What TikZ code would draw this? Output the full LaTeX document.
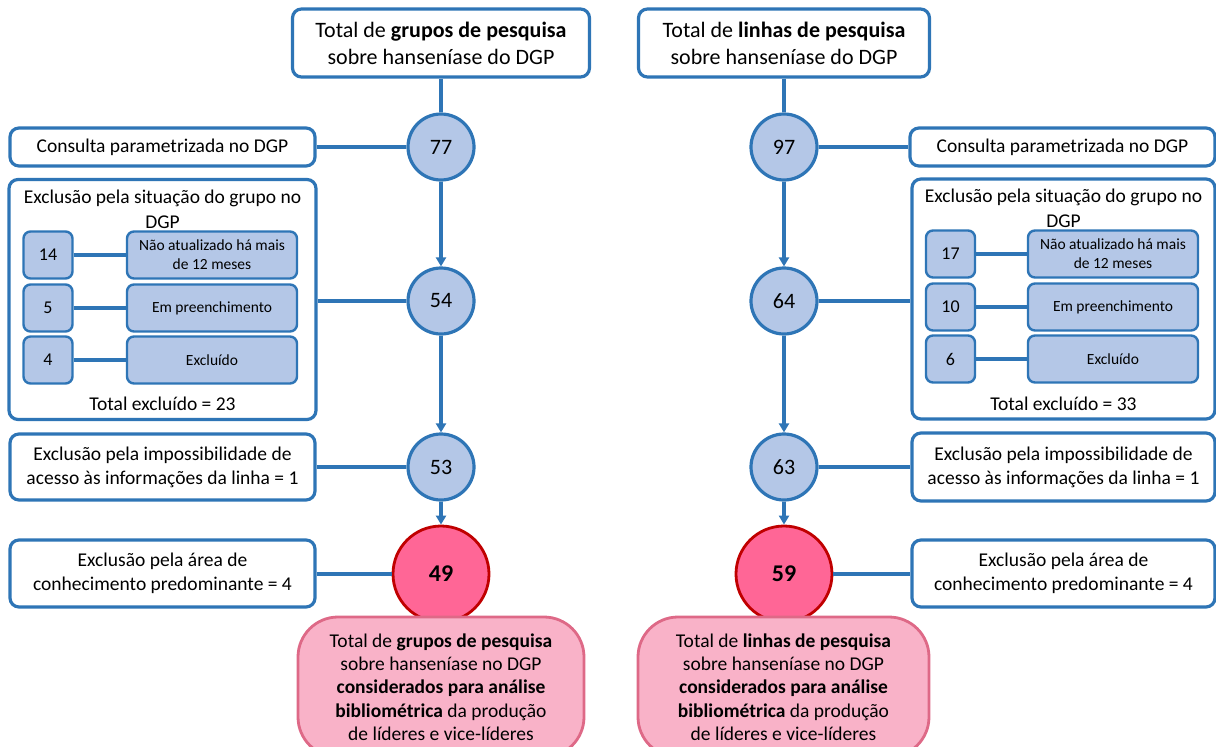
\documentclass[tikz,border=0pt]{standalone}
\usepackage{fontspec}
\setmainfont{Carlito}
\usetikzlibrary{arrows.meta}
\definecolor{myblue}{RGB}{46,117,182}
\definecolor{lightblue}{RGB}{180,199,231}
\definecolor{redfill}{RGB}{255,102,150}
\definecolor{redline}{RGB}{192,0,0}
\definecolor{pinkfill}{RGB}{249,178,200}
\definecolor{pinkline}{RGB}{222,105,135}
\definecolor{txt}{RGB}{0,0,0}
\tikzset{
  bbox/.style={draw=myblue, line width=3.2pt, rounded corners=9pt, fill=white, align=center, inner sep=0pt, text=txt, font=\fontsize{19.5}{24}\selectfont},
  topbox/.style={bbox, font=\fontsize{22}{27}\selectfont},
  numc/.style={circle, draw=myblue, line width=3.2pt, fill=lightblue, minimum size=66pt, inner sep=0pt, text=txt, font=\fontsize{22}{26}\selectfont},
  redc/.style={circle, draw=redline, line width=2.8pt, fill=redfill, minimum size=96pt, inner sep=0pt, text=txt, font=\bfseries\fontsize{24}{28}\selectfont},
  sbox/.style={draw=myblue, line width=2.4pt, rounded corners=7pt, fill=lightblue, align=center, inner sep=0pt, text=txt, font=\fontsize{15.5}{19}\selectfont, minimum height=47pt},
  snum/.style={sbox, minimum width=49pt, font=\fontsize{18}{20}\selectfont},
  slab/.style={sbox, minimum width=170pt},
  pinkbox/.style={draw=pinkline, line width=2.8pt, rounded corners=40pt, fill=pinkfill, align=center, inner sep=0pt, text=txt, font=\fontsize{19.5}{23.3}\selectfont},
  plain/.style={align=center, inner sep=0pt, text=txt, font=\fontsize{19.5}{25}\selectfont},
  conn/.style={draw=myblue, line width=3.2pt},
  arr/.style={conn, -{Triangle[width=10pt,length=9pt]}},
}
\begin{document}
\begin{tikzpicture}[x=1pt,y=-1pt]
\useasboundingbox (0,0) rectangle (1216,747);
% ---------------- LEFT ----------------
\node[topbox, minimum width=297pt, minimum height=68pt] (topL) at (441,43) {Total de \textbf{grupos de pesquisa}\\sobre hanseníase do DGP};
\node[numc] (c77) at (441,147) {77};
\node[bbox, minimum width=305pt, minimum height=38pt] (consL) at (162.5,147) {Consulta parametrizada no DGP};
\node[bbox, minimum width=307pt, minimum height=240pt] (groupL) at (162.5,299.5) {};
\node[plain] (gtL) at (162.5,209) {Exclusão pela situação do grupo no\\DGP};
\node[snum] (n14) at (48,255) {14};
\node[slab] (l14) at (212,255) {Não atualizado há mais\\de 12 meses};
\node[snum] (n5) at (48,308) {5};
\node[slab] (l5) at (212,308) {Em preenchimento};
\node[snum] (n4) at (48,360) {4};
\node[slab] (l4) at (212,360) {Excluído};
\node[plain] (totL) at (162.5,404) {Total excluído = 23};
\node[numc] (c54) at (441,301) {54};
\node[bbox, minimum width=305pt, minimum height=66pt] (impL) at (162.5,467) {Exclusão pela impossibilidade de\\acesso às informações da linha = 1};
\node[numc] (c53) at (441,467) {53};
\node[redc] (r49) at (441,574) {49};
\node[bbox, minimum width=305pt, minimum height=67pt] (areaL) at (162.5,573.5) {Exclusão pela área de\\conhecimento predominante = 4};
\node[pinkbox, minimum width=286pt, minimum height=140pt] (pinkL) at (441,687) {Total de \textbf{grupos de pesquisa}\\sobre hanseníase no DGP\\\textbf{considerados para análise}\\\textbf{bibliométrica} da produção\\de líderes e vice-líderes};
\draw[conn] (topL.south) -- (c77.north);
\draw[conn] (consL.east) -- (c77.west);
\draw[arr] (c77.south) -- (c54.north);
\draw[conn] (c54.west -| groupL.east) -- (c54.west);
\draw[arr] (c54.south) -- (c53.north);
\draw[conn] (impL.east) -- (c53.west);
\draw[arr] (c53.south) -- (r49.north);
\draw[conn] (r49.west -| areaL.east) -- (r49.west);
\draw[conn] (n14.east) -- (l14.west);
\draw[conn] (n5.east) -- (l5.west);
\draw[conn] (n4.east) -- (l4.west);
% ---------------- RIGHT ----------------
\node[topbox, minimum width=291pt, minimum height=68pt] (topR) at (784,43) {Total de \textbf{linhas de pesquisa}\\sobre hanseníase do DGP};
\node[numc] (c97) at (784,147) {97};
\node[bbox, minimum width=305pt, minimum height=38pt] (consR) at (1062.5,147) {Consulta parametrizada no DGP};
\node[bbox, minimum width=303pt, minimum height=240pt] (groupR) at (1063.5,299) {};
\node[plain] (gtR) at (1063.5,208) {Exclusão pela situação do grupo no\\DGP};
\node[snum] (n17) at (950.5,254) {17};
\node[slab] (l17) at (1113,254) {Não atualizado há mais\\de 12 meses};
\node[snum] (n10) at (950.5,307) {10};
\node[slab] (l10) at (1113,307) {Em preenchimento};
\node[snum] (n6) at (950.5,359) {6};
\node[slab] (l6) at (1113,359) {Excluído};
\node[plain] (totR) at (1063.5,404) {Total excluído = 33};
\node[numc] (c64) at (784,301) {64};
\node[bbox, minimum width=303pt, minimum height=68pt] (impR) at (1063.5,467) {Exclusão pela impossibilidade de\\acesso às informações da linha = 1};
\node[numc] (c63) at (784,467) {63};
\node[redc] (r59) at (784,574) {59};
\node[bbox, minimum width=303pt, minimum height=67pt] (areaR) at (1063.5,573.5) {Exclusão pela área de\\conhecimento predominante = 4};
\node[pinkbox, minimum width=291pt, minimum height=140pt] (pinkR) at (783.5,687) {Total de \textbf{linhas de pesquisa}\\sobre hanseníase no DGP\\\textbf{considerados para análise}\\\textbf{bibliométrica} da produção\\de líderes e vice-líderes};
\draw[conn] (topR.south) -- (c97.north);
\draw[conn] (c97.east) -- (consR.west);
\draw[arr] (c97.south) -- (c64.north);
\draw[conn] (c64.east) -- (c64.east -| groupR.west);
\draw[arr] (c64.south) -- (c63.north);
\draw[conn] (c63.east) -- (impR.west);
\draw[arr] (c63.south) -- (r59.north);
\draw[conn] (r59.east) -- (r59.east -| areaR.west);
\draw[conn] (n17.east) -- (l17.west);
\draw[conn] (n10.east) -- (l10.west);
\draw[conn] (n6.east) -- (l6.west);
\end{tikzpicture}
\end{document}
